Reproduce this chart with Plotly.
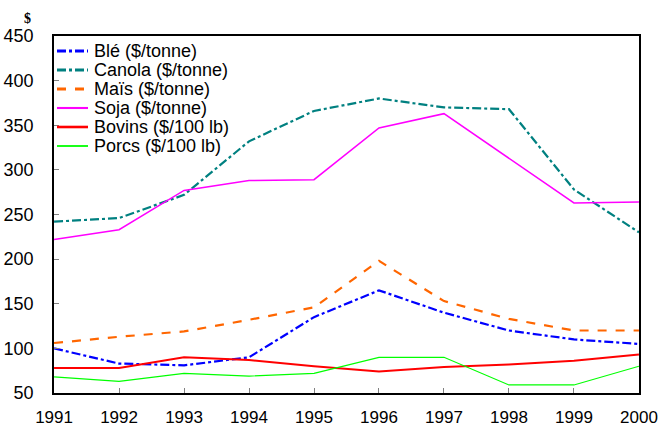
import plotly.graph_objects as go

years = [1991, 1992, 1993, 1994, 1995, 1996, 1997, 1998, 1999, 2000]
ble = [100, 83, 81, 90, 135, 165, 140, 120, 110, 105]
canola = [242, 246, 272, 332, 366, 380, 370, 368, 278, 230]
mais = [106, 113, 119, 132, 146, 198, 153, 133, 120, 120]
soja = [222, 233, 277, 288, 289, 347, 363, 313, 263, 264]
bovins = [78, 78, 90, 87, 80, 74, 79, 82, 86, 93]
porcs = [68, 63, 72, 69, 72, 90, 90, 59, 59, 80]

series = [
    ("Blé ($/tonne)", ble, "#0000FF", "dashdot", 2.2),
    ("Canola ($/tonne)", canola, "#008080", "dashdot", 2.2),
    ("Maïs ($/tonne)", mais, "#FF6600", "dash", 2.2),
    ("Soja ($/tonne)", soja, "#FF00FF", "solid", 1.5),
    ("Bovins ($/100 lb)", bovins, "#FF0000", "solid", 2),
    ("Porcs ($/100 lb)", porcs, "#00FF00", "solid", 1.2),
]

W, H = 661, 429
L, R, T, B = 54, 22, 36, 36
pw, ph = W - L - R, H - T - B

fig = go.Figure()
for name, vals, color, dash, w in series:
    fig.add_trace(go.Scatter(x=years, y=vals, mode="lines", name=name,
                             line=dict(color=color, dash=dash, width=w),
                             showlegend=False))

# compact legend (tight rows like the reference)
row0, rowgap = 51, 19
for i, (name, vals, color, dash, w) in enumerate(series):
    py = row0 + i * rowgap
    yp = (H - B - py) / ph
    fig.add_shape(type="line", xref="paper", yref="paper",
                  x0=(57 - L) / pw, x1=(88 - L) / pw, y0=yp, y1=yp,
                  line=dict(color=color, dash=dash, width=w + 0.6))
    fig.add_annotation(text=name, xref="paper", yref="paper",
                       x=(93 - L) / pw, y=yp, xanchor="left", yanchor="middle",
                       showarrow=False, font=dict(size=18), borderpad=0)

fig.update_layout(
    width=W, height=H,
    margin=dict(l=L, r=R, t=T, b=B),
    paper_bgcolor="white", plot_bgcolor="white",
    font=dict(family="Arial, Liberation Sans, sans-serif", size=17, color="black"),
    showlegend=False,
    xaxis=dict(range=[1990.999, 2000.001], tickvals=years, ticks="inside", ticklen=5,
               showgrid=False, zeroline=False, showline=True, linecolor="black",
               linewidth=1.5, mirror=True, tickcolor="gray", tickfont=dict(size=17),
               ticklabelstandoff=8, automargin=False),
    yaxis=dict(range=[50, 450], dtick=50, ticks="inside", ticklen=5,
               showgrid=False, zeroline=False, showline=True, linecolor="black",
               linewidth=1.5, mirror=True, tickcolor="gray", tickfont=dict(size=18),
               ticklabelstandoff=15, automargin=False),
)
fig.add_annotation(text="<b>$</b>", xref="paper", yref="paper",
                   x=(27 - L) / pw, y=(H - B - 19) / ph,
                   xanchor="center", yanchor="middle", showarrow=False,
                   font=dict(family="Liberation Serif, Times New Roman, serif", size=14))
fig.write_html("out.html", config={"displayModeBar": False},
               post_script="document.body.style.margin='0';")
